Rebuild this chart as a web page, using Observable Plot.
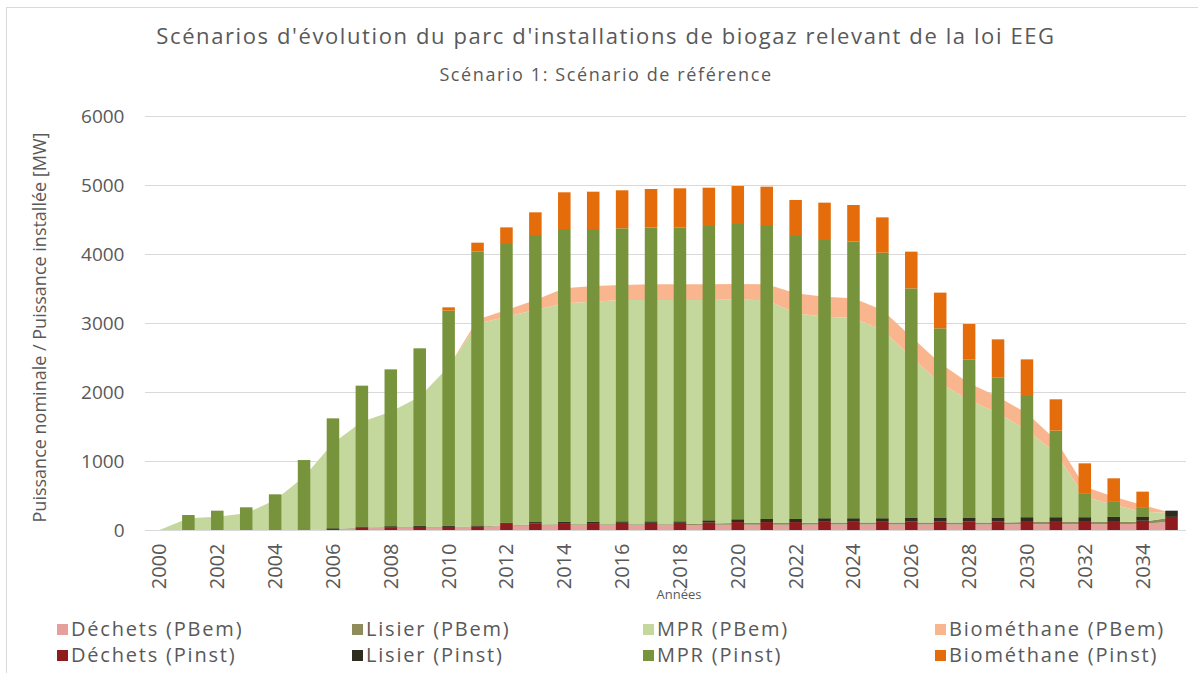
<!DOCTYPE html>
<html>
<head>
<meta charset="utf-8">
<script src="https://cdn.jsdelivr.net/npm/d3@7"></script>
<script src="https://cdn.jsdelivr.net/npm/@observablehq/plot@0.6"></script>
<style>
  body { margin: 0; background: #fff; }
  #wrap { position: relative; width: 1198px; height: 673px; overflow: hidden; font-family: "Open Sans", sans-serif; color: #595959; }
  #frame { position: absolute; left: 6px; top: 7px; width: 1198px; height: 700px; border-left: 1px solid #d9d9d9; border-top: 1px solid #d9d9d9; }
  #title { position: absolute; top: 20px; left: 0; width: 1212px; text-align: center; font-size: 22px; letter-spacing: 1.6px; }
  #subtitle { position: absolute; top: 62px; left: 0; width: 1212px; text-align: center; font-size: 18px; letter-spacing: 1.6px; }
  #chart { position: absolute; left: 0; top: 95px; }
  .leg { position: absolute; font-size: 20px; letter-spacing: 1.8px; white-space: nowrap; line-height: 24px; }
  .sw { position: absolute; width: 11px; height: 11px; }
</style>
</head>
<body>
<div id="wrap">
  <div id="frame"></div>
  <div id="title">Scénarios d'évolution du parc d'installations de biogaz relevant de la loi EEG</div>
  <div id="subtitle">Scénario 1: Scénario de référence</div>
  <div id="chart"></div>
  <div id="legend"></div>
</div>
<script>
// ---- Data ----
const years = [2000, 2001, 2002, 2003, 2004, 2005, 2006, 2007, 2008, 2009, 2010, 2011, 2012, 2013, 2014, 2015, 2016, 2017, 2018, 2019, 2020, 2021, 2022, 2023, 2024, 2025, 2026, 2027, 2028, 2029, 2030, 2031, 2032, 2033, 2034, 2035];
const xTickYears = [2000, 2002, 2004, 2006, 2008, 2010, 2012, 2014, 2016, 2018, 2020, 2022, 2024, 2026, 2028, 2030, 2032, 2034];
const yTicks = [0, 1000, 2000, 3000, 4000, 5000, 6000];

const seriesPBem = ["Déchets (PBem)", "Lisier (PBem)", "MPR (PBem)", "Biométhane (PBem)"];
const seriesPinst = ["Déchets (Pinst)", "Lisier (Pinst)", "MPR (Pinst)", "Biométhane (Pinst)"];
const colorsPBem = ["#e5a09b", "#8f8c5c", "#c4d79c", "#f9b68e"];
const colorsPinst = ["#8e1c1e", "#2f2c1f", "#77933c", "#e46c0a"];

// Puissance nominale (PBem) - areas
const dechetsPBem = [0, 0, 0, 0, 0, 0, 10, 25, 30, 35, 35, 40, 60, 65, 70, 70, 70, 70, 70, 75, 75, 75, 75, 80, 80, 80, 80, 80, 80, 80, 85, 85, 85, 85, 90, 120];
const lisierPBem = [0, 0, 0, 0, 0, 0, 5, 10, 10, 10, 10, 10, 10, 15, 15, 15, 15, 15, 15, 20, 25, 25, 25, 30, 30, 30, 30, 30, 30, 30, 30, 30, 30, 30, 30, 60];
const mprPBem = [0, 170, 193, 242, 435, 773, 1241, 1535, 1675, 1887, 2322, 2940, 3021, 3108, 3200, 3224, 3248, 3250, 3250, 3240, 3240, 3230, 3040, 2982, 2962, 2789, 2402, 2016, 1774, 1581, 1334, 996, 368, 247, 146, 66];
const biomethanePBem = [0, 0, 0, 0, 0, 0, 0, 0, 0, 0, 0, 60, 97, 145, 217, 227, 218, 225, 225, 225, 225, 230, 290, 290, 286, 289, 290, 289, 242, 241, 242, 193, 145, 121, 96, 0];

// Puissance installée (Pinst) - bars
const dechetsPinst = [0, 0, 0, 0, 0, 0, 15, 35, 40, 45, 45, 50, 90, 95, 100, 100, 105, 105, 105, 110, 115, 115, 115, 120, 120, 120, 125, 125, 125, 125, 130, 130, 130, 130, 135, 190];
const lisierPinst = [0, 0, 0, 0, 0, 0, 10, 15, 15, 15, 15, 15, 15, 20, 20, 20, 20, 20, 20, 30, 40, 45, 45, 50, 50, 50, 55, 55, 55, 55, 55, 55, 55, 60, 60, 90];
const mprPinst = [0, 217, 280, 329, 517, 1014, 1593, 2042, 2273, 2573, 3119, 3969, 4040, 4160, 4242, 4242, 4247, 4257, 4261, 4266, 4280, 4260, 4101, 4033, 4009, 3849, 3322, 2743, 2293, 2033, 1757, 1255, 346, 221, 134, 0];
const biomethanePinst = [0, 0, 0, 0, 0, 0, 0, 0, 0, 0, 48, 130, 241, 329, 532, 541, 551, 560, 566, 555, 551, 556, 522, 541, 531, 512, 532, 517, 513, 550, 531, 454, 435, 338, 227, 0];

const yLabel = "Puissance nominale / Puissance installée [MW]";
const xLabel = "Années";

// ---- Tidy tables ----
const pbemValues = [dechetsPBem, lisierPBem, mprPBem, biomethanePBem];
const pinstValues = [dechetsPinst, lisierPinst, mprPinst, biomethanePinst];
const pbem = [];
seriesPBem.forEach((s, i) => years.forEach((y, j) => pbem.push({year: y, series: s, value: pbemValues[i][j]})));
const pinst = [];
seriesPinst.forEach((s, i) => years.forEach((y, j) => pinst.push({year: y, series: s, value: pinstValues[i][j]})));

const allSeries = [...seriesPBem, ...seriesPinst];
const allColors = [...colorsPBem, ...colorsPinst];

const chart = Plot.plot({
  width: 1198,
  height: 512,
  marginLeft: 145,
  marginRight: 12,
  marginTop: 21,
  marginBottom: 77,
  style: { fontFamily: "Open Sans, sans-serif", color: "#595959", background: "transparent" },
  x: { domain: [1999.5, 2035.5] },
  y: { domain: [0, 6000] },
  color: { domain: allSeries, range: allColors },
  marks: [
    Plot.gridY(yTicks, { stroke: "#d9d9d9", strokeOpacity: 1, strokeWidth: 1 }),
    Plot.areaY(pbem, Plot.stackY({ order: seriesPBem }, { x: "year", y: "value", fill: "series", curve: "linear" })),
    Plot.rectY(pinst, Plot.stackY({ order: seriesPinst }, { x1: d => d.year - 0.5, x2: d => d.year + 0.5, y: "value", fill: "series", insetLeft: 8.2, insetRight: 8.2 })),
    Plot.axisY(yTicks, { tickSize: 0, tickPadding: 21, tickFormat: d => String(d), fontSize: 19, label: null, fill: "#595959", style: "letter-spacing:2.4px" }),
    Plot.axisX(xTickYears, { tickSize: 0, tickPadding: 13, tickRotate: -90, tickFormat: d => String(d), fontSize: 20, label: null, fill: "#595959", style: "letter-spacing:0.6px" }),
    Plot.text([yLabel], { text: d => d, frameAnchor: "left", textAnchor: "middle", dx: -105, dy: 4, rotate: -90, fontSize: 18, fill: "#595959", style: "letter-spacing:1.5px" }),
    Plot.text([xLabel], { text: d => d, frameAnchor: "bottom", dx: 13, dy: 68, fontSize: 13, fill: "#595959" })
  ]
});
document.getElementById("chart").appendChild(chart);

// ---- Legend (2 rows x 4 columns) ----
const legend = document.getElementById("legend");
const colX = [57, 352, 643, 935];
const rowY = [617, 643];
[[seriesPBem, colorsPBem], [seriesPinst, colorsPinst]].forEach(([names, cols], r) => {
  names.forEach((name, c) => {
    const sw = document.createElement("div");
    sw.className = "sw";
    sw.style.left = colX[c] + "px";
    sw.style.top = (rowY[r] + 7) + "px";
    sw.style.background = cols[c];
    legend.appendChild(sw);
    const t = document.createElement("div");
    t.className = "leg";
    t.style.left = (colX[c] + 14) + "px";
    t.style.top = rowY[r] + "px";
    t.textContent = name;
    legend.appendChild(t);
  });
});
</script>
</body>
</html>
